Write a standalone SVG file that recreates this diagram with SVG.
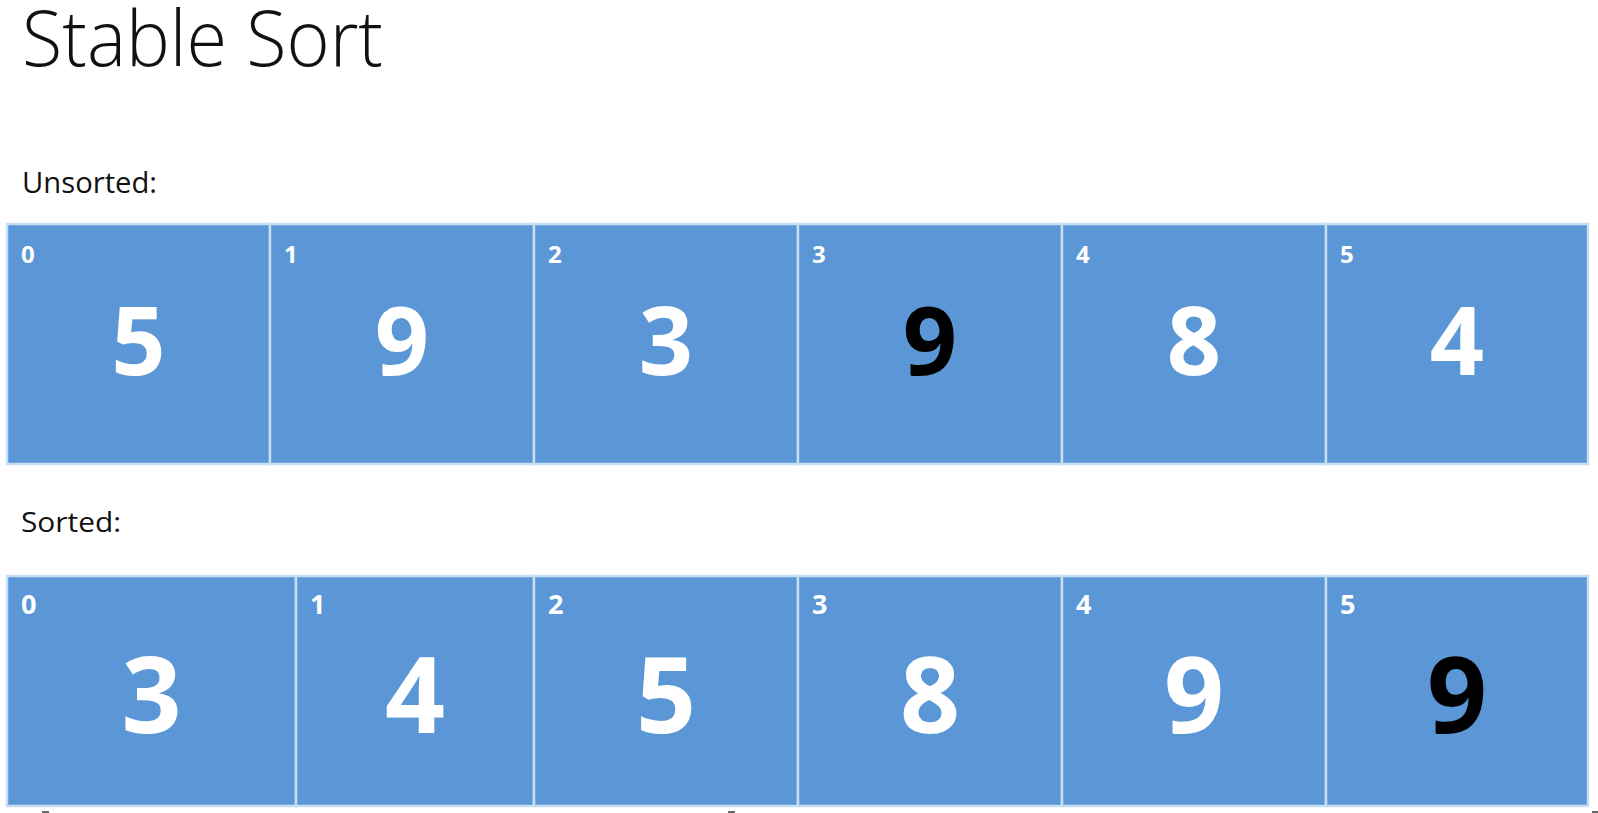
<svg xmlns="http://www.w3.org/2000/svg" width="1598" height="813" viewBox="0 0 1598 813">
<style>
.bg{fill:#ffffff}
.cell{fill:#5B97D6;stroke:#C6DDF3;stroke-width:2.5}
.lbl{font-family:"Open Sans","Liberation Sans",sans-serif;fill:#111111}
.idx{font-family:"Open Sans","Liberation Sans",sans-serif;font-weight:700;fill:#ffffff}
.big{font-family:"Open Sans","Liberation Sans",sans-serif;font-weight:700;fill:#ffffff;text-anchor:middle}
.dark{fill:#000000}
.i1{font-size:24px}
.i2{font-size:27px}
.b1{font-size:95px}
.b2{font-size:105px}
</style>
<rect class="bg" x="0" y="0" width="1598" height="813"/>
<text class="lbl" x="22" y="66" font-size="78" font-weight="300" textLength="361" lengthAdjust="spacingAndGlyphs">Stable Sort</text>
<text class="lbl" x="22" y="193" font-size="29" textLength="135" lengthAdjust="spacingAndGlyphs">Unsorted:</text>
<text class="lbl" x="21" y="532" font-size="28" textLength="100" lengthAdjust="spacingAndGlyphs">Sorted:</text>

<g id="unsorted">
<g id="u0"><rect class="cell" x="7" y="224" width="263" height="240"/><text class="idx i1" x="21" y="263">0</text><text class="big b1" x="138.5" y="375">5</text></g>
<g id="u1"><rect class="cell" x="270" y="224" width="264" height="240"/><text class="idx i1" x="284" y="263">1</text><text class="big b1" x="402" y="375">9</text></g>
<g id="u2"><rect class="cell" x="534" y="224" width="264" height="240"/><text class="idx i1" x="548" y="263">2</text><text class="big b1" x="666" y="375">3</text></g>
<g id="u3"><rect class="cell" x="798" y="224" width="264" height="240"/><text class="idx i1" x="812" y="263">3</text><text class="big b1 dark" x="930" y="375">9</text></g>
<g id="u4"><rect class="cell" x="1062" y="224" width="264" height="240"/><text class="idx i1" x="1076" y="263">4</text><text class="big b1" x="1194" y="375">8</text></g>
<g id="u5"><rect class="cell" x="1326" y="224" width="262" height="240"/><text class="idx i1" x="1340" y="263">5</text><text class="big b1" x="1457" y="375">4</text></g>
</g>

<g id="sorted">
<g id="s0"><rect class="cell" x="7" y="576" width="289" height="230"/><text class="idx i2" x="21" y="614">0</text><text class="big b2" x="151.5" y="733">3</text></g>
<g id="s1"><rect class="cell" x="296" y="576" width="238" height="230"/><text class="idx i2" x="310" y="614">1</text><text class="big b2" x="415" y="733">4</text></g>
<g id="s2"><rect class="cell" x="534" y="576" width="264" height="230"/><text class="idx i2" x="548" y="614">2</text><text class="big b2" x="666" y="733">5</text></g>
<g id="s3"><rect class="cell" x="798" y="576" width="264" height="230"/><text class="idx i2" x="812" y="614">3</text><text class="big b2" x="930" y="733">8</text></g>
<g id="s4"><rect class="cell" x="1062" y="576" width="264" height="230"/><text class="idx i2" x="1076" y="614">4</text><text class="big b2" x="1194" y="733">9</text></g>
<g id="s5"><rect class="cell" x="1326" y="576" width="262" height="230"/><text class="idx i2" x="1340" y="614">5</text><text class="big b2 dark" x="1457" y="733">9</text></g>
</g>

<g id="connectors"></g>
<g id="marks" fill="#666a70">
<rect x="42" y="811" width="7" height="2"/>
<rect x="728" y="811" width="7" height="2"/>
<rect x="1592" y="811" width="6" height="2"/>
</g>
</svg>
